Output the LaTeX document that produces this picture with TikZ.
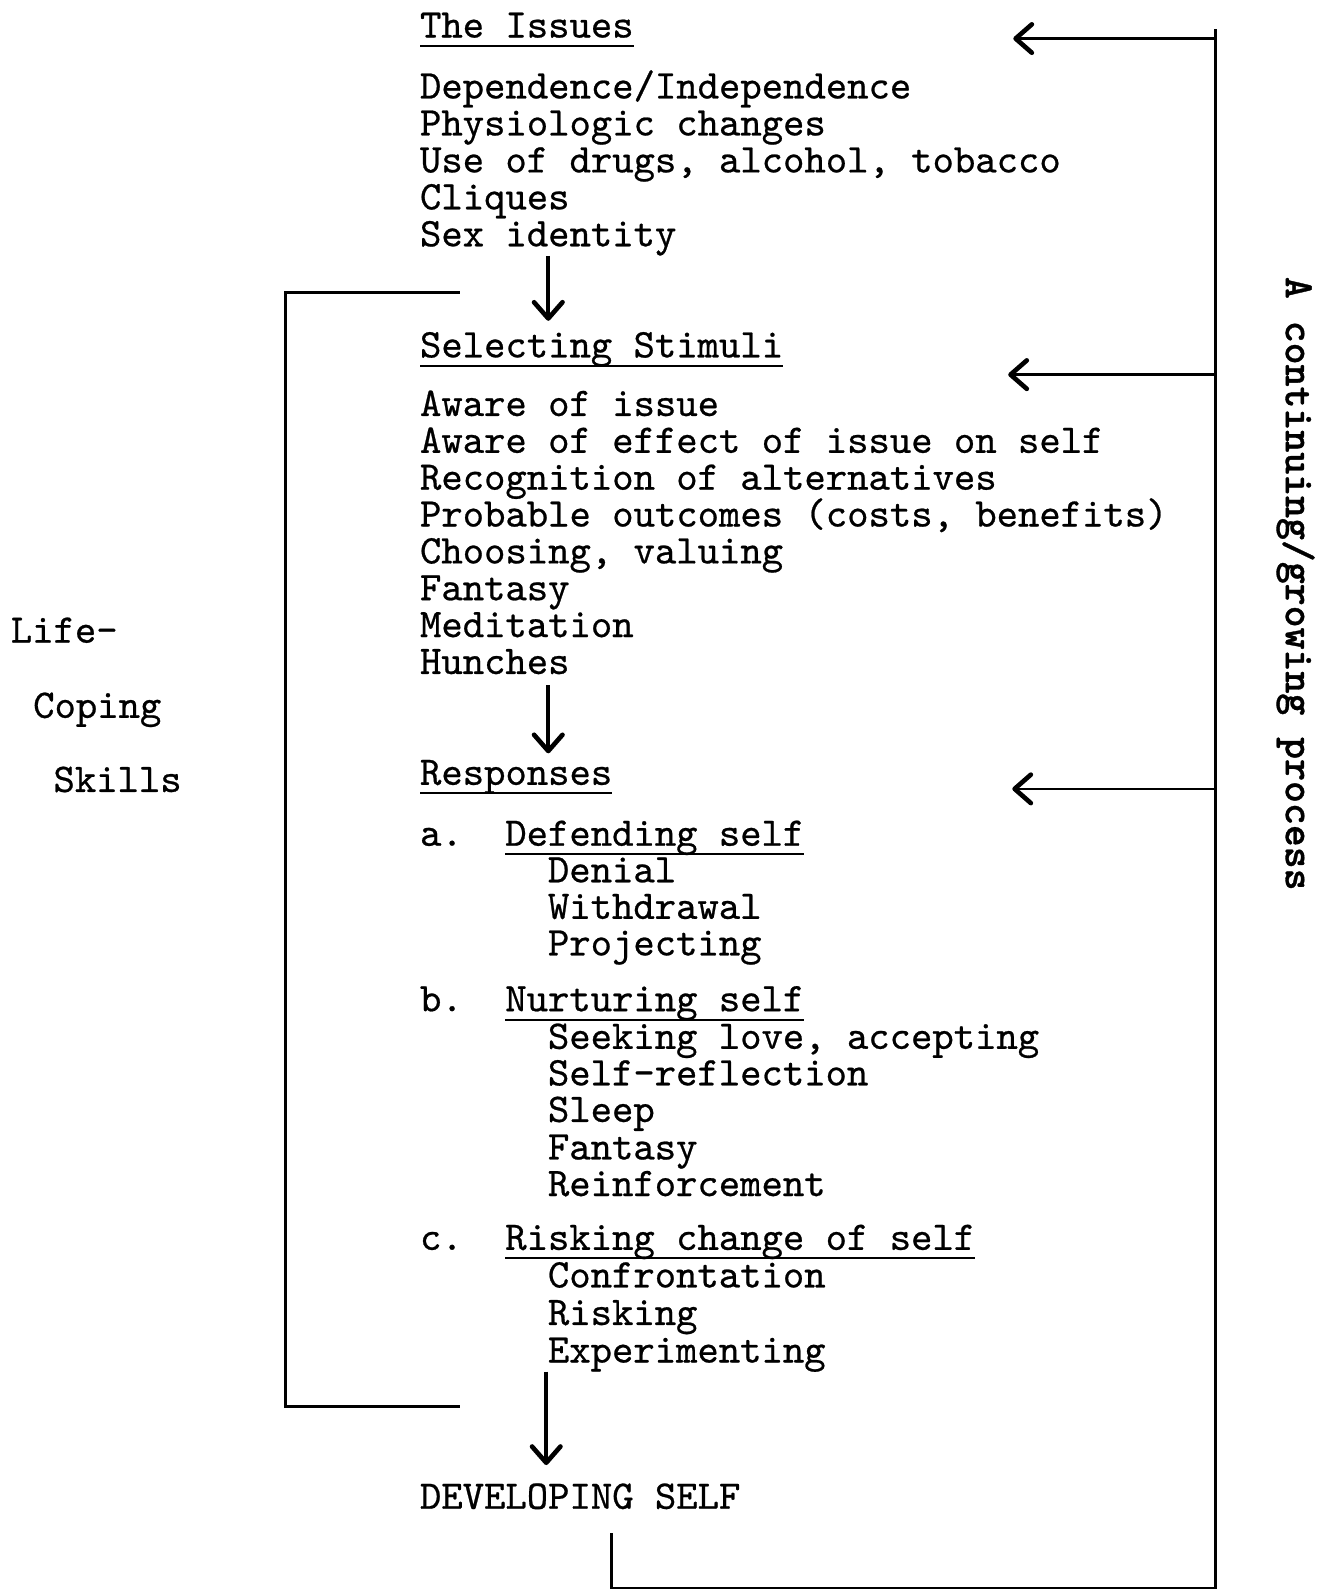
\documentclass[tikz,border=0pt]{standalone}
\usepackage{fontspec}
\newfontfamily\typewriter{lmmono10-regular.otf}[FakeBold=0.6]
\newfontfamily\typewriterbold{lmmonolt10-bold.otf}[FakeBold=0.8]
\usetikzlibrary{positioning}
\usetikzlibrary{arrows.meta}

\newsavebox\headbox
\newcommand{\headline}[1]{\sbox\headbox{#1}\rlap{\rule[-2.7pt]{\wd\headbox}{0.6pt}}\usebox\headbox}

\begin{document}
\begin{tikzpicture}
    [item/.style={anchor=base west, inner sep=0pt, font=\typewriter\fontsize{11.4}{13}\selectfont},
    process/.style={rotate=-90, inner sep=0pt, font=\typewriterbold\fontsize{11.7}{13}\selectfont},
    flow/.style={->, line width=1pt},
    feedback/.style={->, line width=0.7pt},
    bracket/.style={line width=0.8pt},
    >={Straight Barb[length=1.6mm, width=2.8mm, round, line width=1.3pt]}]
     \useasboundingbox (0,0) rectangle (13,15.68);
     %\draw[step=1cm,gray,very thin] (0,0) grid (13,15);
     \node[item] (issues) at (4.13, 15.31)    {\headline{The Issues}};
     \node[item] (iss1) at (4.13, 14.71)      {Dependence/Independence};
     \node[item] (iss2) at (4.13, 14.346)     {Physiologic changes};
     \node[item] (iss3) at (4.13, 13.982)     {Use of drugs, alcohol, tobacco};
     \node[item] (iss4) at (4.13, 13.618)     {Cliques};
     \node[item] (iss5) at (4.13, 13.254)     {Sex identity};
     \node[item] (stimuli) at (4.13, 12.16)   {\headline{Selecting Stimuli}};
     \node[item] (sti1) at (4.13, 11.583)     {Aware of issue};
     \node[item] (sti2) at (4.13, 11.22)      {Aware of effect of issue on self};
     \node[item] (sti3) at (4.13, 10.857)     {Recognition of alternatives};
     \node[item] (sti4) at (4.13, 10.494)     {Probable outcomes (costs, benefits)};
     \node[item] (sti5) at (4.13, 10.131)     {Choosing, valuing};
     \node[item] (sti6) at (4.13, 9.768)      {Fantasy};
     \node[item] (sti7) at (4.13, 9.405)      {Meditation};
     \node[item] (sti8) at (4.13, 9.042)      {Hunches};
     \node[item] (resp) at (4.13, 7.95)       {\headline{Responses}};
     \node[item] (la) at (4.13, 7.35)         {a.};
     \node[item] (defend) at (4.97, 7.35)     {\headline{Defending self}};
     \node[item] (def1) at (5.39, 6.99)       {Denial};
     \node[item] (def2) at (5.39, 6.63)       {Withdrawal};
     \node[item] (def3) at (5.39, 6.27)       {Projecting};
     \node[item] (lb) at (4.13, 5.72)         {b.};
     \node[item] (nurture) at (4.97, 5.72)    {\headline{Nurturing self}};
     \node[item] (nur1) at (5.39, 5.35)       {Seeking love, accepting};
     \node[item] (nur2) at (5.39, 4.99)       {Self-reflection};
     \node[item] (nur3) at (5.39, 4.63)       {Sleep};
     \node[item] (nur4) at (5.39, 4.26)       {Fantasy};
     \node[item] (nur5) at (5.39, 3.90)       {Reinforcement};
     \node[item] (lc) at (4.13, 3.37)         {c.};
     \node[item] (risk) at (4.97, 3.37)       {\headline{Risking change of self}};
     \node[item] (ris1) at (5.39, 3.00)       {Confrontation};
     \node[item] (ris2) at (5.39, 2.63)       {Risking};
     \node[item] (ris3) at (5.39, 2.26)       {Experimenting};
     \node[item] (develop) at (4.13, 0.82)    {DEVELOPING SELF};
     \node[item] (life) at (0.10, 9.35)       {Life-};
     \node[item] (coping) at (0.32, 8.61)     {Coping};
     \node[item] (skills) at (0.52, 7.88)     {Skills};
     \node[process] (cont) at (12.76, 9.93)   {A continuing/growing process};
     \coordinate (i2s-a) at (5.40, 13.16);
     \coordinate (i2s-b) at (5.40, 12.52);
     \coordinate (s2r-a) at (5.40, 8.93);
     \coordinate (s2r-b) at (5.40, 8.26);
     \coordinate (r2d-a) at (5.38, 2.17);
     \coordinate (r2d-b) at (5.38, 1.25);
     \coordinate (devhook) at (6.02, 0.58);
     \coordinate (looptop) at (11.97, 15.39);
     \coordinate (fb1) at (9.98, 15.30);
     \coordinate (fb2) at (9.93, 11.99);
     \coordinate (fb3) at (9.97, 7.91);
     \coordinate (brtop) at (4.53, 12.80);
     \coordinate (brbot) at (4.53, 1.83);
     \draw[flow] (i2s-a) -- (i2s-b);
     \draw[flow] (s2r-a) -- (s2r-b);
     \draw[flow] (r2d-a) -- (r2d-b);
     \draw[bracket] (devhook) -- ++(0,-0.54) -| (looptop);
     \draw[feedback] (fb1 -| looptop) -- (fb1);
     \draw[feedback] (fb2 -| looptop) -- (fb2);
     \draw[feedback] (fb3 -| looptop) -- (fb3);
     \draw[bracket] (brtop) -- ++(-1.72,0) |- (brbot);
\end{tikzpicture}
\end{document}
